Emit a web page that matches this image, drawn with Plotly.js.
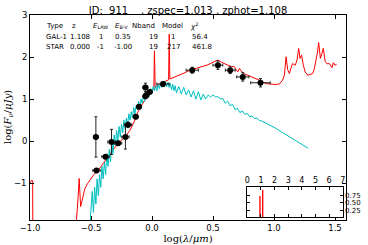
<!DOCTYPE html>
<html>
<head>
<meta charset="utf-8">
<script src="https://cdn.plot.ly/plotly-3.0.1.min.js"></script>
<style>html,body{margin:0;padding:0;background:#fff;}#chart{width:368px;height:245px;}</style>
</head>
<body>
<div id="chart"></div>
<script>
// ---- data ----
const galX = [-1.0,-0.985,-0.978,-0.975,-0.63,-0.618,-0.605,-0.597,-0.585,-0.57,-0.55,-0.53,-0.51,-0.48,-0.44,-0.40,-0.36,-0.32,-0.28,-0.22,-0.18,-0.14,-0.128,-0.10,-0.073,-0.05,-0.033,-0.005,0.015,0.020,0.026,0.036,0.06,0.09,0.12,0.136,0.141,0.146,0.18,0.226,0.27,0.31,0.36,0.417,0.46,0.50,0.54,0.57,0.60,0.62,0.65,0.676,0.69,0.703,0.717,0.74,0.76,0.785,0.82,0.853,0.89,0.935,0.976,1.01,1.044,1.07,1.085,1.099,1.112,1.126,1.14,1.153,1.165,1.175,1.19,1.202,1.213,1.226,1.24,1.255,1.276,1.30,1.317,1.33,1.344,1.355,1.366,1.38,1.392,1.404,1.42,1.435,1.453,1.475,1.486,1.50,1.513];
const galY = [-1.0,-0.93,-0.95,-5,-5,-1.84,-1.3,-0.89,-1.56,-1.35,-1.13,-1.02,-0.93,-0.81,-0.69,-0.53,-0.37,-0.21,-0.06,0.10,0.26,0.50,0.62,0.78,0.90,1.02,1.10,1.19,1.24,2.15,1.27,1.30,1.36,1.40,1.43,1.46,2.55,1.48,1.52,1.57,1.63,1.69,1.73,1.77,1.82,1.88,1.93,1.88,1.83,1.81,1.78,1.77,1.70,1.65,1.73,1.64,1.60,1.57,1.53,1.49,1.44,1.37,1.36,1.35,1.36,1.45,1.57,2.01,1.70,1.61,1.75,1.85,1.82,1.81,1.95,2.21,1.97,2.05,1.81,1.65,1.57,1.59,1.61,1.72,1.89,2.10,2.35,1.97,2.08,2.21,1.89,1.84,1.85,1.75,1.87,1.81,1.83];

const starX = [-0.52,-0.50,-0.49,-0.48,-0.47,-0.46,-0.45,-0.44,-0.43,-0.42,-0.41,-0.40,-0.39,-0.38,-0.37,-0.36,-0.35,-0.34,-0.33,-0.32,-0.31,-0.30,-0.29,-0.28,-0.27,-0.26,-0.25,-0.24,-0.23,-0.22,-0.21,-0.20,-0.19,-0.18,-0.17,-0.16,-0.15,-0.14,-0.13,-0.12,-0.11,-0.10,-0.09,-0.08,-0.07,-0.06,-0.05,-0.04,-0.03,-0.02,-0.01,0.00,0.01,0.02,0.03,0.04,0.05,0.06,0.07,0.08,0.09,0.10,0.11,0.12,0.13,0.14,0.15,0.16,0.17,0.18,0.19,0.20,0.22,0.24,0.26,0.28,0.30,0.32,0.34,0.36,0.38,0.40,0.42,0.44,0.46,0.48,0.50,0.52,0.54,0.56,0.58,0.60,0.62,0.64,0.66,0.68,0.70,0.72,0.74,0.76,0.78,0.80,0.82,0.84,0.86,0.88,0.90,0.95,1.00,1.10,1.20,1.28];
const starY = [-2.5,-1.6,-1.2,-1.7,-1.1,-1.5,-0.9,-1.3,-0.8,-1.1,-0.6,-0.9,-0.5,-0.8,-0.3,-0.6,-0.2,-0.5,0.0,-0.3,0.15,-0.1,0.25,0.0,0.35,0.1,0.4,0.2,0.5,0.3,0.55,0.4,0.65,0.5,0.7,0.55,0.8,0.65,0.85,0.75,0.95,0.8,1.0,0.9,1.1,0.95,1.15,1.05,1.2,1.1,1.25,1.15,1.3,1.2,1.32,1.2,1.35,1.25,1.38,1.28,1.4,1.3,1.42,1.3,1.4,1.28,1.38,1.22,1.35,1.2,1.32,1.15,1.3,1.12,1.28,1.1,1.22,1.05,1.2,1.0,1.18,0.98,1.12,1.0,1.1,1.05,1.1,1.05,1.06,1.0,1.02,0.9,0.95,0.84,0.88,0.75,0.78,0.68,0.72,0.64,0.66,0.58,0.6,0.54,0.55,0.49,0.48,0.40,0.33,0.15,-0.03,-0.17];

const obsX  = [-0.46,-0.455,-0.381,-0.332,-0.278,-0.218,-0.196,-0.133,-0.106,-0.054,-0.054,-0.045,-0.019,0.09,0.33,0.54,0.641,0.744,0.889];
const obsY  = [0.10,-0.70,-0.37,-0.02,-0.05,0.10,0.39,0.58,0.82,1.07,1.28,1.10,1.17,1.36,1.69,1.81,1.69,1.53,1.39];
const obsEX = [0.02,0.03,0.03,0.03,0.03,0.03,0.03,0.02,0.02,0.02,0.02,0.02,0.02,0.05,0.05,0.04,0.04,0.05,0.08];
const obsEY = [0.48,0.04,0.05,0.30,0.05,0.29,0.06,0.05,0.05,0.05,0.10,0.05,0.04,0.05,0.07,0.10,0.08,0.10,0.10];

const pdzX = [0.93,1.13];
const pdzY = [0.72,0.91];

const mainYTicks = [-1, 0, 1, 2, 3];
const mainYTickText = ['\u22121', '0', '1', '2', '3'];
const mainXTicks = [-1, -0.5, 0, 0.5, 1, 1.5];

const tableHeader = ['Type','z','<i>E</i><sub>LAW</sub>','<i>E</i><sub>B-V</sub>','Nband','Model','<i>χ</i><sup>2</sup>'];
const tableGal  = ['GAL-1','1.108','1','0.35','19','1','56.4'];
const tableStar = ['STAR','0.000','-1','-1.00','19','217','461.8'];

const titleText = 'ID:\u00a0\u00a0911\u00a0\u00a0\u00a0\u00a0, zspec=1.013 , zphot=1.108';
const yTitleText = 'log(<i>F</i><sub><i>ν</i></sub>/<i>μJy</i>)';
const xTitleText = 'log(<i>λ</i>/<i>μm</i>)';

// ---- layout helpers ----
const W = 368, H = 245, L = 30, R = 22, T = 15, B = 25;
const pw = W - L - R, ph = H - T - B;
const px = x => (x - L) / pw;
const py = y => (H - B - y) / ph;
const yRange = [-1.88, 3.005];
const yFrac = v => (v - yRange[0]) / (yRange[1] - yRange[0]);

const headX = [45, 74, 100.5, 121.5, 143, 172.5, 193.5];
const valX  = [45, 79.5, 100.5, 122.5, 153.3, 173, 191];
const rowYs = [26.3, 36.6, 47];

const tickFont = {family: 'DejaVu Sans', size: 8.5, color: '#000'};
const annotations = [];
function addRow(cells, xs, yPix, isHeader) {
  cells.forEach((c, i) => {
    let anchor = 'center';
    if (i === 0) anchor = 'left';
    if (!isHeader && i === 6) anchor = 'left';
    annotations.push({
      text: c, xref: 'paper', yref: 'paper', x: px(xs[i]), y: py(yPix),
      xanchor: anchor, yanchor: 'middle', showarrow: false, borderpad: 0,
      font: {family: 'DejaVu Sans', size: 7, color: '#000'}
    });
  });
}
addRow(tableHeader, headX, rowYs[0], true);
addRow(tableGal, valX, rowYs[1], false);
addRow(tableStar, valX, rowYs[2], false);

// main y tick labels
mainYTicks.forEach((v, i) => {
  annotations.push({
    text: mainYTickText[i], xref: 'paper', yref: 'paper', x: 0, y: yFrac(v),
    xanchor: 'right', yanchor: 'middle', xshift: -2, showarrow: false, borderpad: 0,
    font: tickFont
  });
});
// y-axis title
annotations.push({
  text: yTitleText, xref: 'paper', yref: 'paper', x: px(8.5), y: 0.5,
  xanchor: 'center', yanchor: 'middle', textangle: -90, showarrow: false, borderpad: 0,
  font: {family: 'DejaVu Serif', size: 10, color: '#000'}
});

const traces = [
  {x: galX, y: galY, mode: 'lines', line: {color: '#ff0000', width: 1}, xaxis: 'x', yaxis: 'y', hoverinfo: 'skip'},
  {x: starX, y: starY, mode: 'lines', line: {color: '#00bfbf', width: 1}, xaxis: 'x', yaxis: 'y', hoverinfo: 'skip'},
  {x: obsX, y: obsY, mode: 'markers', marker: {color: '#000', size: 6},
   error_x: {type: 'data', array: obsEX, color: '#222', thickness: 1, width: 1.5},
   error_y: {type: 'data', array: obsEY, color: '#222', thickness: 1, width: 1.5},
   xaxis: 'x', yaxis: 'y'},
  {x: pdzX, y: pdzY, type: 'bar', width: 0.1, marker: {color: '#ff0000', line: {width: 0}}, xaxis: 'x2', yaxis: 'y2'}
];

const axCommon = {showline: true, linecolor: '#000', linewidth: 1, mirror: 'ticks', ticks: 'inside', ticklen: 4, tickcolor: '#000', showgrid: false, zeroline: false};

const layout = {
  width: W, height: H,
  margin: {l: L, r: R, t: T, b: B, pad: 0},
  paper_bgcolor: '#fff', plot_bgcolor: '#fff',
  showlegend: false,
  title: {text: titleText, font: {family: 'DejaVu Sans', size: 10, color: '#000'}, x: 0.5, xref: 'paper', y: 1, yref: 'paper', yanchor: 'bottom', pad: {b: 1}},
  xaxis: Object.assign({}, axCommon, {
    domain: [0, 1], anchor: 'y', range: [-1, 1.59],
    tickvals: mainXTicks, tickformat: '.1f', tickfont: tickFont,
    title: {text: xTitleText, font: {family: 'DejaVu Serif', size: 10, color: '#000'}, standoff: 2}
  }),
  yaxis: Object.assign({}, axCommon, {
    domain: [0, 1], anchor: 'x', range: yRange,
    tickvals: mainYTicks, showticklabels: false
  }),
  xaxis2: Object.assign({}, axCommon, {
    domain: [px(247.3), px(342.7)], anchor: 'y2', side: 'top', range: [0, 7], dtick: 1, ticklen: 3,
    tickfont: {family: 'DejaVu Sans', size: 8, color: '#000'}
  }),
  yaxis2: Object.assign({}, axCommon, {
    domain: [py(217), py(187.3)], anchor: 'x2', side: 'right', range: [0.05, 1.0], ticklen: 3,
    tickvals: [0.25, 0.5, 0.75], ticktext: ['0.25', '0.50', '0.75'],
    tickfont: {family: 'DejaVu Sans', size: 7, color: '#000'}
  }),
  annotations: annotations
};

Plotly.newPlot('chart', traces, layout, {staticPlot: true, displayModeBar: false});
</script>
</body>
</html>
